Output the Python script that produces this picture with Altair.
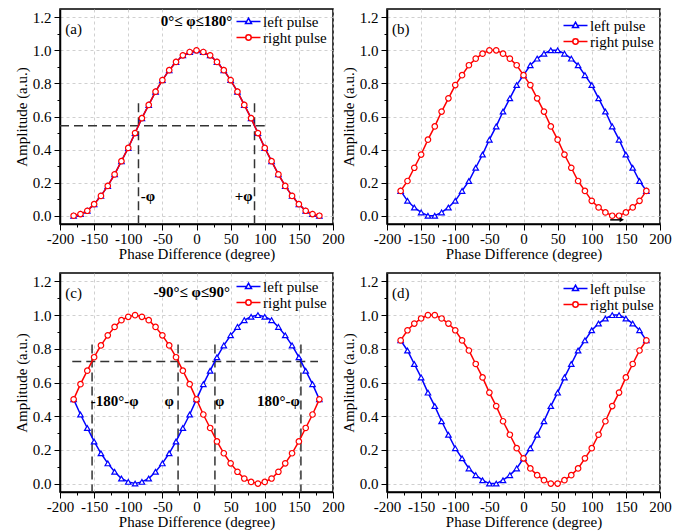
import altair as alt
import pandas as pd

FONT = "Times New Roman"

# ---------------- data ----------------
phase = list(range(-180, 181, 10))
series_names = ["left pulse", "right pulse"]
colors = ["#0000ff", "#ff0000"]
marker_shapes = ["triangle-up", "circle"]

a_left = [0.00, 0.01, 0.03, 0.07, 0.12, 0.18, 0.25, 0.33, 0.41, 0.50, 0.59, 0.67, 0.75, 0.82, 0.88, 0.93, 0.97, 0.99, 1.00,
          0.99, 0.97, 0.93, 0.88, 0.82, 0.75, 0.67, 0.59, 0.50, 0.41, 0.33, 0.25, 0.18, 0.12, 0.07, 0.03, 0.01, 0.00]
a_right = [0.00, 0.01, 0.03, 0.07, 0.12, 0.18, 0.25, 0.33, 0.41, 0.50, 0.59, 0.67, 0.75, 0.82, 0.88, 0.93, 0.97, 0.99, 1.00,
           0.99, 0.97, 0.93, 0.88, 0.82, 0.75, 0.67, 0.59, 0.50, 0.41, 0.33, 0.25, 0.18, 0.12, 0.07, 0.03, 0.01, 0.00]

b_left = [0.15, 0.09, 0.05, 0.02, 0.00, 0.00, 0.02, 0.05, 0.09, 0.15, 0.21, 0.29, 0.37, 0.46, 0.54, 0.63, 0.71, 0.79, 0.85,
          0.91, 0.95, 0.98, 1.00, 1.00, 0.98, 0.95, 0.91, 0.85, 0.79, 0.71, 0.63, 0.54, 0.46, 0.37, 0.29, 0.21, 0.15]
b_right = [0.15, 0.21, 0.29, 0.37, 0.46, 0.54, 0.63, 0.71, 0.79, 0.85, 0.91, 0.95, 0.98, 1.00, 1.00, 0.98, 0.95, 0.91, 0.85,
           0.79, 0.71, 0.63, 0.54, 0.46, 0.37, 0.29, 0.21, 0.15, 0.09, 0.05, 0.02, 0.00, 0.00, 0.02, 0.05, 0.09, 0.15]

c_left = [0.50, 0.41, 0.33, 0.25, 0.18, 0.12, 0.07, 0.03, 0.01, 0.00, 0.01, 0.03, 0.07, 0.12, 0.18, 0.25, 0.33, 0.41, 0.50,
          0.59, 0.67, 0.75, 0.82, 0.88, 0.93, 0.97, 0.99, 1.00, 0.99, 0.97, 0.93, 0.88, 0.82, 0.75, 0.67, 0.59, 0.50]
c_right = [0.50, 0.59, 0.67, 0.75, 0.82, 0.88, 0.93, 0.97, 0.99, 1.00, 0.99, 0.97, 0.93, 0.88, 0.82, 0.75, 0.67, 0.59, 0.50,
           0.41, 0.33, 0.25, 0.18, 0.12, 0.07, 0.03, 0.01, 0.00, 0.01, 0.03, 0.07, 0.12, 0.18, 0.25, 0.33, 0.41, 0.50]

d_left = [0.85, 0.79, 0.71, 0.63, 0.54, 0.46, 0.37, 0.29, 0.21, 0.15, 0.09, 0.05, 0.02, 0.00, 0.00, 0.02, 0.05, 0.09, 0.15,
          0.21, 0.29, 0.37, 0.46, 0.54, 0.63, 0.71, 0.79, 0.85, 0.91, 0.95, 0.98, 1.00, 1.00, 0.98, 0.95, 0.91, 0.85]
d_right = [0.85, 0.91, 0.95, 0.98, 1.00, 1.00, 0.98, 0.95, 0.91, 0.85, 0.79, 0.71, 0.63, 0.54, 0.46, 0.37, 0.29, 0.21, 0.15,
           0.09, 0.05, 0.02, 0.00, 0.00, 0.02, 0.05, 0.09, 0.15, 0.21, 0.29, 0.37, 0.46, 0.54, 0.63, 0.71, 0.79, 0.85]

# annotations (data coordinates)
a_tag = ["(a)"]; b_tag = ["(b)"]; c_tag = ["(c)"]; d_tag = ["(d)"]
tag_x = [-180]; tag_y = [1.13]

a_text = ["0°≤ φ≤180°", "-φ", "+φ"]
a_text_x = [0, -71, 69]
a_text_y = [1.18, 0.12, 0.12]
a_rule_x1 = [-200, -85, 85]
a_rule_x2 = [100, -85, 85]
a_rule_y1 = [0.544, 0.68, 0.68]
a_rule_y2 = [0.544, -0.05, -0.05]

c_text = ["-90°≤ φ≤90°", "-180°-φ", "φ", "φ", "180°-φ"]
c_text_x = [-7, -120, -40, 34, 120]
c_text_y = [1.14, 0.49, 0.49, 0.49, 0.49]
c_rule_x1 = [-182, -153, -27, 27, 153]
c_rule_x2 = [178, -153, -27, 27, 153]
c_rule_y1 = [0.724, 0.826, 0.826, 0.826, 0.826]
c_rule_y2 = [0.724, -0.05, -0.05, -0.05, -0.05]

b_arrow_x1 = [127]; b_arrow_x2 = [144]; b_arrow_y = [-0.025]

# ---------------- axes ----------------
x_values = list(range(-200, 201, 25))
y_values = [round(0.1 * k, 1) for k in range(13)]

x_axis = alt.Axis(
    values=x_values,
    labelExpr="datum.value % 50 == 0 ? '' + datum.value : ''",
    tickSize={"condition": {"test": "datum.value % 50 == 0", "value": 6}, "value": 3},
    gridOpacity={"condition": {"test": "datum.value % 50 == 0", "value": 1}, "value": 0},
    title="Phase Difference (degree)",
    labelFont=FONT, titleFont=FONT,
    labelFlush=False, labelOverlap=False, labelPadding=1, titlePadding=0,
)
y_axis = alt.Axis(
    values=y_values,
    labelExpr="round(datum.value * 10) % 2 == 0 ? format(datum.value, '.1f') : ''",
    tickSize={"condition": {"test": "round(datum.value * 10) % 2 == 0", "value": 6}, "value": 3},
    gridOpacity={"condition": {"test": "round(datum.value * 10) % 2 == 0", "value": 1}, "value": 0},
    title="Amplitude (a.u.)",
    labelFont=FONT, titleFont=FONT,
    labelFlush=False, labelOverlap=False, labelPadding=3, titlePadding=3,
)


def X(field):
    return alt.X(f"{field}:Q", scale=alt.Scale(domain=[-200, 200], nice=False, zero=False), axis=x_axis)


def Y(field):
    return alt.Y(f"{field}:Q", scale=alt.Scale(domain=[-0.05, 1.25], nice=False, zero=False), axis=y_axis)


# legend symbols: line segment with the marker in the middle
TRI = "M-2,0L-0.33,0M0.33,0L2,0M0,-0.55L0.5,0.35L-0.5,0.35Z"
CIRC = "M-2,0L-0.45,0M0.45,0L2,0M0.45,0A0.45,0.45,0,1,1,-0.45,0A0.45,0.45,0,1,1,0.45,0Z"


def panel(left, right, tag, legend_y, w, h, texts=None, rules=None, arrow=None):
    df = pd.DataFrame({
        "phase": phase + phase,
        "amp": left + right,
        "series": [series_names[0]] * len(phase) + [series_names[1]] * len(phase),
    })
    base = alt.Chart(df)
    layers = []
    if rules is not None:
        rdf = pd.DataFrame({"x1": rules[0], "x2": rules[1], "y1": rules[2], "y2": rules[3]})
        layers.append(alt.Chart(rdf).mark_rule(color="#333333", strokeWidth=1.5, strokeDash=[9, 5]).encode(
            x=X("x1"), x2="x2:Q", y=Y("y1"), y2="y2:Q"))
    for s, col, shp in zip(series_names, colors, marker_shapes):
        sub = base.transform_filter(alt.datum.series == s)
        layers.append(sub.mark_line(strokeWidth=1.5, color=col).encode(x=X("phase"), y=Y("amp")))
        layers.append(sub.mark_point(shape=shp, filled=True, fill="white", stroke=col, opacity=1,
                                     size=30, strokeWidth=1.2).encode(x=X("phase"), y=Y("amp")))
    # legend-only layer (draws nothing, only provides the legend)
    legend = alt.Legend(
        orient="none", legendX=181, legendY=legend_y, title=None, padding=0,
        labelFont=FONT, labelFontSize=15, labelColor="black", labelOffset=7,
        rowPadding=-4, symbolSize=144, symbolStrokeWidth=1.5, symbolFillColor="white",
        symbolOpacity=1,
    )
    layers.append(base.transform_filter("false").mark_point(filled=True, fill="white", opacity=1, size=144,
                                                             strokeWidth=1.5).encode(
        x=X("phase"), y=Y("amp"),
        stroke=alt.Stroke("series:N", scale=alt.Scale(domain=series_names, range=colors), legend=legend),
        shape=alt.Shape("series:N", scale=alt.Scale(domain=series_names, range=[TRI, CIRC]), legend=legend),
    ))
    if texts is not None:
        tdf = pd.DataFrame({"t": texts[0], "x": texts[1], "y": texts[2]})
        layers.append(alt.Chart(tdf).mark_text(font=FONT, fontSize=15, fontWeight="bold", color="black",
                                               align="center", baseline="middle").encode(
            x=X("x"), y=Y("y"), text="t:N"))
    if arrow is not None:
        adf = pd.DataFrame({"x1": arrow[0], "x2": arrow[1], "y": arrow[2]})
        layers.append(alt.Chart(adf).mark_rule(color="black", strokeWidth=1.5).encode(
            x=X("x1"), x2="x2:Q", y=Y("y")))
        layers.append(alt.Chart(adf).mark_point(shape="triangle-right", filled=True, color="black",
                                                opacity=1, size=25).encode(x=X("x2"), y=Y("y")))
    gdf = pd.DataFrame({"t": tag, "x": tag_x, "y": tag_y})
    layers.append(alt.Chart(gdf).mark_text(font=FONT, fontSize=15, color="black",
                                           align="center", baseline="middle").encode(
        x=X("x"), y=Y("y"), text="t:N"))
    return alt.layer(*layers).properties(width=w, height=h)


pa = panel(a_left, a_right, a_tag, 5, 273, 215, texts=(a_text, a_text_x, a_text_y),
           rules=(a_rule_x1, a_rule_x2, a_rule_y1, a_rule_y2))
pb = panel(b_left, b_right, b_tag, 9, 273, 215, arrow=(b_arrow_x1, b_arrow_x2, b_arrow_y))
pc = panel(c_left, c_right, c_tag, 6, 273, 219, texts=(c_text, c_text_x, c_text_y),
           rules=(c_rule_x1, c_rule_x2, c_rule_y1, c_rule_y2))
pd_ = panel(d_left, d_right, d_tag, 8, 273, 219)

chart = alt.concat(pa, pb, pc, pd_, columns=2, spacing={"row": 49, "column": 54}, bounds="flush")
chart = chart.resolve_scale(stroke="independent", shape="independent",
                            x="independent", y="independent").resolve_legend(stroke="independent",
                                                                              shape="independent")

chart = chart.properties(
    padding={"left": 5, "top": 0, "right": 5, "bottom": 5},
    background="white",
).configure(
    font=FONT
).configure_view(
    stroke="black", strokeWidth=1.5
).configure_axis(
    labelFont=FONT, labelFontSize=15, labelColor="black",
    titleFont=FONT, titleFontSize=15, titleFontWeight="normal", titleColor="black",
    domainColor="black", domainWidth=1.5, tickColor="black", tickWidth=1,
    gridColor="#c4c4c4", gridDash=[3, 3], gridWidth=0.8,
)

chart.save("out.html", embed_options={"renderer": "svg", "actions": False})
